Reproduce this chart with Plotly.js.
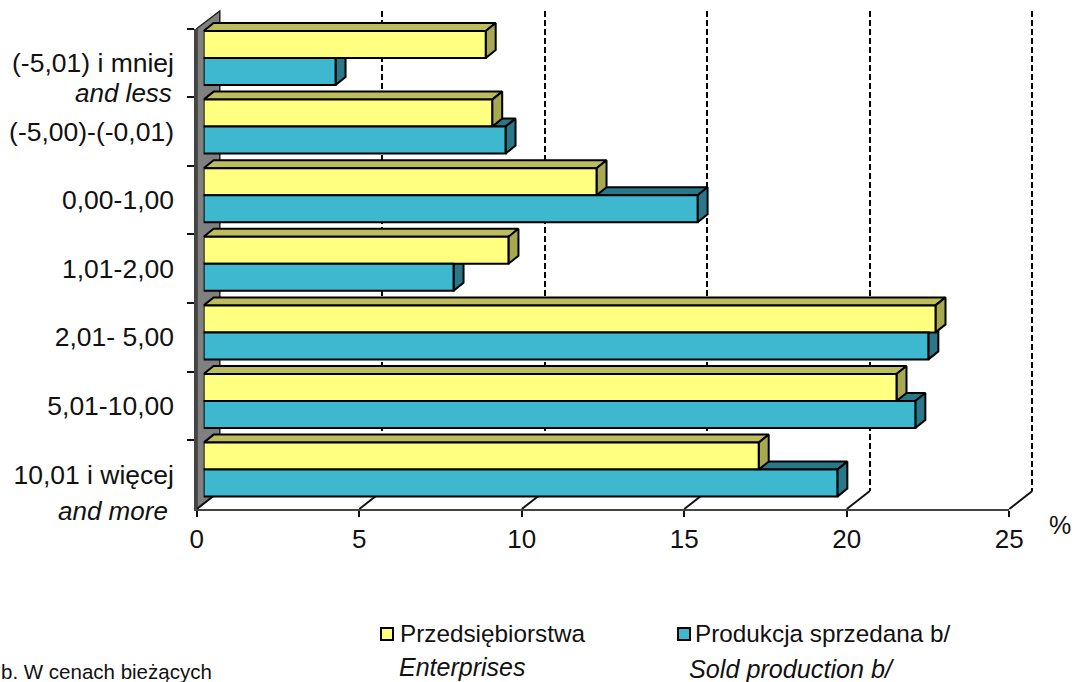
<!DOCTYPE html>
<html><head><meta charset="utf-8">
<script src="https://cdn.plot.ly/plotly-3.0.1.min.js"></script>
<style>html,body{margin:0;padding:0;background:#fff}#c{width:1075px;height:682px}</style>
</head><body><div id="c"></div>
<script>
const categories = ["(-5,01) i mniej","(-5,00)-(-0,01)","0,00-1,00","1,01-2,00","2,01- 5,00","5,01-10,00","10,01 i więcej"];
const enterprises = [8.68,8.88,12.09,9.38,22.52,21.32,17.08];
const soldProduction = [4.06,9.29,15.2,7.69,22.3,21.9,19.5];
const xTicks = [0,5,10,15,20,25];
const gridTicks = [5,10,15,20,25];

const W=1075,H=682,FONT='"Liberation Sans",Arial,sans-serif';
const pxX=p=>p/W, pxY=p=>1-p/H;
const X0=196.8,UNIT=32.5,FLOOR=509,TOP=28.5,STEP=68.6;
const BACKX=23,BACKY=18,GRIDEND=25.2;
const BX=203.6,BY0=58;
const DX=10/UNIT,DY=8/STEP,BARH=27/STEP;
const idx=categories.map((_,i)=>i);

function face(vals,side,part,color){
  const xs=[],ys=[];
  vals.forEach((v,i)=>{
    const t=side<0?i-BARH:i, b=side<0?i:i+BARH;
    if(part==='top'){xs.push(0,DX,v+DX,v,0,null);ys.push(t,t-DY,t-DY,t,t,null);}
    else{xs.push(v,v+DX,v+DX,v,v,null);ys.push(t,t-DY,b-DY,b,t,null);}
  });
  return {type:'scatter',mode:'lines',x:xs,y:ys,xaxis:'x2',yaxis:'y2',fill:'toself',fillcolor:color,
    line:{color:'#000',width:2},hoverinfo:'skip',showlegend:false,connectgaps:false};
}
const traces=[
  {type:'scatter',mode:'markers',x:gridTicks,y:gridTicks,xaxis:'x',yaxis:'y',marker:{opacity:0},showlegend:false,hoverinfo:'skip'},
  face(soldProduction,1,'top','#28788A'),
  face(soldProduction,1,'right','#28788A'),
  face(enterprises,-1,'top','#BDBD5E'),
  face(enterprises,-1,'right','#A8A850'),
  {type:'bar',orientation:'h',name:'Przedsiębiorstwa',x:enterprises,y:idx,xaxis:'x3',yaxis:'y3',width:BARH,offset:-BARH,
   marker:{color:'#FFFF80',line:{color:'#000',width:2}},showlegend:false},
  {type:'bar',orientation:'h',name:'Produkcja sprzedana b/',x:soldProduction,y:idx,xaxis:'x3',yaxis:'y3',width:BARH,offset:0,
   marker:{color:'#3DB8CE',line:{color:'#000',width:2}},showlegend:false},
  {type:'scatter',mode:'markers',x:enterprises,y:categories,xaxis:'x4',yaxis:'y4',marker:{opacity:0},showlegend:false,hoverinfo:'skip'}
];
const hidden={visible:false,fixedrange:true};
const x2max=(W-BX)/UNIT, yMin=-BY0/STEP, yMax=(H-BY0)/STEP;
const shapes=[
  {type:'path',xref:'paper',yref:'paper',layer:'below',
   path:`M ${pxX(X0)} ${pxY(TOP)} L ${pxX(X0+BACKX)} ${pxY(TOP-BACKY+.5)} L ${pxX(X0+BACKX)} ${pxY(FLOOR-BACKY)} L ${pxX(X0)} ${pxY(FLOOR)} Z`,
   fillcolor:'#808080',line:{color:'#222',width:1.5}}
];
xTicks.forEach(t=>shapes.push({type:'line',xref:'paper',yref:'paper',layer:'below',
  x0:pxX(X0+t*UNIT),y0:pxY(FLOOR),x1:pxX(X0+t*UNIT+BACKX),y1:pxY(FLOOR-BACKY),line:{color:'#111',width:2}}));
const legendBoxes=[[381,'#FFFF80'],[678,'#3DB8CE']];
legendBoxes.forEach(([x,c])=>shapes.push({type:'rect',xref:'paper',yref:'paper',
  x0:pxX(x),x1:pxX(x+12),y0:pxY(628),y1:pxY(640),fillcolor:c,line:{color:'#000',width:2}}));
function note(text,xp,yp,size,anchor){
  return {text,xref:'paper',yref:'paper',x:pxX(xp),y:pxY(yp),xanchor:anchor||'left',yanchor:'middle',showarrow:false,
    font:{family:FONT,size:size||24,color:'#111'},align:'left'};
}
const layout={
  width:W,height:H,autosize:false,margin:{l:0,r:0,t:0,b:0,pad:0},paper_bgcolor:'#fff',plot_bgcolor:'rgba(0,0,0,0)',
  showlegend:false,barmode:'overlay',hovermode:false,
  font:{family:FONT,color:'#111'},
  xaxis:{domain:[pxX(X0+BACKX),pxX(X0+BACKX+GRIDEND*UNIT)],range:[0,GRIDEND],anchor:'y',tickmode:'array',tickvals:gridTicks,
    showgrid:true,griddash:'6px,3px',gridcolor:'#000',gridwidth:2,zeroline:false,showline:false,showticklabels:false,ticks:'',fixedrange:true},
  yaxis:{domain:[pxY(FLOOR-BACKY),pxY(TOP-BACKY)],range:[0,1],anchor:'x',showgrid:false,zeroline:false,showline:false,showticklabels:false,ticks:'',fixedrange:true},
  xaxis2:Object.assign({domain:[pxX(BX),1],range:[0,x2max],anchor:'y2'},hidden),
  yaxis2:Object.assign({domain:[0,1],range:[yMax,yMin],anchor:'x2'},hidden),
  xaxis3:Object.assign({domain:[pxX(BX),1],range:[0,x2max],anchor:'y3'},hidden),
  yaxis3:Object.assign({domain:[0,1],range:[yMax,yMin],anchor:'x3'},hidden),
  xaxis4:{domain:[pxX(X0),pxX(X0+25*UNIT)],range:[0,25],anchor:'y4',tickmode:'array',tickvals:xTicks,ticktext:xTicks.map(String),
    showgrid:false,zeroline:false,showline:true,linecolor:'#444',linewidth:2.5,ticks:'outside',ticklen:6,tickwidth:2,tickcolor:'#111',
    tickfont:{family:FONT,size:26,color:'#111'},fixedrange:true},
  yaxis4:{domain:[pxY(TOP+7*STEP),pxY(TOP)],type:'category',categoryorder:'array',categoryarray:categories,range:[6.5,-0.5],anchor:'x4',
    tickson:'boundaries',showgrid:false,zeroline:false,showline:true,linecolor:'#444',linewidth:2.5,ticks:'outside',ticklen:7,tickwidth:2,tickcolor:'#111',
    ticklabelstandoff:15,tickfont:{family:FONT,size:26.5,color:'#111'},fixedrange:true},
  shapes,
  annotations:[
    note('<i>and less</i>',174,93,26,'right'),
    note('<i>and more</i>',170,511,26,'right'),
    note('%',1060,525,25,'center'),
    note('Przedsiębiorstwa',398,633,24.3),
    note('<i>Enterprises</i>',397,667,25),
    note('Produkcja sprzedana b/',693,633,24.3),
    note('<i>Sold production b/</i>',687,669,25.2),
    note('b. W cenach bieżących',-1,671,20.5)
  ]
};
Plotly.newPlot('c',traces,layout,{displayModeBar:false,staticPlot:true});
</script></body></html>
